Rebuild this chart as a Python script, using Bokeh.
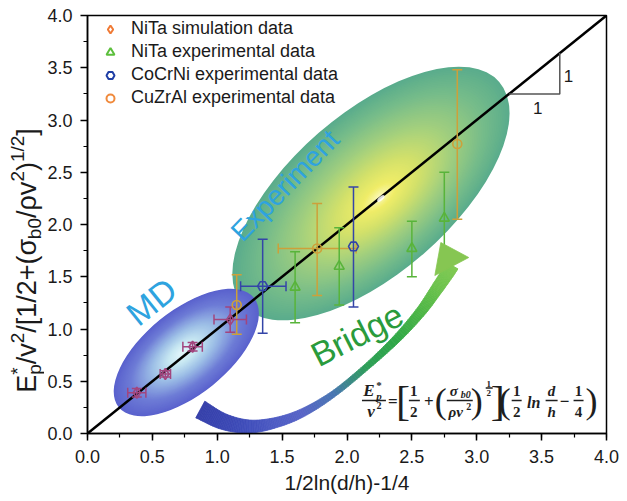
import numpy as np
from bokeh.plotting import figure
from bokeh.layouts import row
from bokeh.models import (Range1d, Label, Legend, LegendItem, SingleIntervalTicker,
                          NumeralTickFormatter, ColumnDataSource)
from bokeh.embed import file_html
from bokeh.resources import INLINE

# ---------------- data ----------------
sim_x = [0.38, 0.60, 0.81, 1.10]
sim_y = [0.39, 0.57, 0.83, 1.09]
sim_xerr = [0.07, 0.04, 0.075, 0.125]
sim_yerr = [0.04, 0.03, 0.04, 0.12]

nita_x = [1.60, 1.94, 2.50, 2.75]
nita_y = [1.40, 1.60, 1.77, 2.06]
nita_lo = [1.06, 1.23, 1.50, 1.62]
nita_hi = [1.74, 1.97, 2.03, 2.50]

cocrni_x = [1.35, 2.05]
cocrni_y = [1.41, 1.79]
cocrni_lo = [0.96, 1.21]
cocrni_hi = [1.86, 2.36]
cocrni_xlo = [1.18, 2.05]
cocrni_xhi = [1.53, 2.05]

cuzral_x = [1.15, 1.77, 2.85]
cuzral_y = [1.23, 1.77, 2.77]
cuzral_lo = [0.95, 1.32, 2.05]
cuzral_hi = [1.52, 2.20, 3.48]
cuzral_xlo = [1.15, 1.47, 2.85]
cuzral_xhi = [1.15, 2.07, 2.85]

series_names = ["NiTa simulation data", "NiTa experimental data",
                "CoCrNi experimental data", "CuZrAl experimental data"]
diag_x = [0.0, 4.0]
diag_y = [0.0, 4.0]
x_title = "1/2ln(d/h)-1/4"

# ---------------- layout ----------------
LW = 44                       # width of the strip holding the y title
W, H = 627 - LW, 501
X0, Y0, SX, SY = 86.0, 433.0, 130.0, 104.5   # page pixel of data origin / px per unit


def to_data(px, py):
    return (px - X0) / SX, (Y0 - py) / SY


p = figure(width=W, height=H, output_backend="svg", toolbar_location=None,
           x_range=Range1d(0, 4), y_range=Range1d(0, 4),
           min_border_left=86 - LW, min_border_right=21, min_border_top=15, min_border_bottom=68)
p.grid.visible = False
p.outline_line_color = "black"
p.outline_line_width = 1.5
p.background_fill_color = "white"
p.border_fill_color = "white"
for ax in (p.xaxis[0], p.yaxis[0]):
    ax.ticker = SingleIntervalTicker(interval=0.5, num_minor_ticks=2)
    ax.formatter = NumeralTickFormatter(format="0.0")
    ax.axis_line_width = 1.5
    ax.axis_line_color = "black"
    ax.major_tick_line_width = 1.5
    ax.minor_tick_line_width = 1.2
    ax.major_tick_out = 7
    ax.major_tick_in = 0
    ax.minor_tick_out = 4
    ax.minor_tick_in = 0
    ax.major_label_text_font = "Liberation Sans"
    ax.major_label_text_font_size = "18px"
    ax.major_label_text_color = "#1a1a1a"
p.xaxis.major_label_standoff = 9
p.yaxis.major_label_standoff = 8
p.xaxis.axis_label = x_title
p.xaxis.axis_label_text_font = "Liberation Sans"
p.xaxis.axis_label_text_font_size = "21px"
p.xaxis.axis_label_text_font_style = "normal"
p.xaxis.axis_label_text_color = "#1a1a1a"
p.xaxis.axis_label_standoff = 5


def interp_color(stops, s):
    ss = [st[0] for st in stops]
    order = np.argsort(ss)
    xs = np.array(ss)[order]
    cols = np.array([st[1] for st in stops], float)[order]
    r = [np.interp(s, xs, cols[:, k]) for k in range(3)]
    return "#%02x%02x%02x" % tuple(int(round(v)) for v in r)


def ellipse_stack(cx, cy, a, b, ang, stops, shift=(0, 0), n=70):
    d = dict(x=[], y=[], w=[], h=[], c=[])
    for i in range(n):
        s = 1 - i / n
        px = cx + (1 - s) * shift[0]
        py = cy + (1 - s) * shift[1]
        x, y = to_data(px, py)
        d["x"].append(x); d["y"].append(y)
        d["w"].append(2 * a * s); d["h"].append(2 * b * s)
        d["c"].append(interp_color(stops, s))
    p.ellipse(x="x", y="y", width="w", height="h", angle=float(np.deg2rad(ang)),
              width_units="screen", height_units="screen", fill_color="c",
              line_color=None, source=ColumnDataSource(d))


green_stops = [(1.0, (90, 172, 140)), (0.8, (118, 188, 138)), (0.55, (162, 207, 126)),
               (0.3, (212, 225, 106)), (0.12, (240, 237, 104)), (0.0, (252, 250, 200))]
blue_stops = [(1.0, (90, 98, 205)), (0.75, (110, 124, 214)), (0.45, (156, 190, 230)),
              (0.2, (200, 232, 242)), (0.0, (228, 247, 252))]

ellipse_stack(370, 193, 170, 80, 41, green_stops, shift=(9, 4))
ellipse_stack(185, 352, 87, 42, 39, blue_stops, shift=(-4, 0))

# diagonal
p.line(diag_x, diag_y, line_color="black", line_width=2.5)

# error bars
CAPX = 5.0 / SX
CAPY = 5.0 / SY


def vbars(xs, lo, hi, color):
    p.segment(x0=xs, y0=lo, x1=xs, y1=hi, line_color=color, line_width=1.5)
    for v in (lo, hi):
        p.segment(x0=[x - CAPX for x in xs], y0=v, x1=[x + CAPX for x in xs], y1=v,
                  line_color=color, line_width=1.5)


def hbars(ys, lo, hi, color):
    sel = [i for i in range(len(ys)) if hi[i] - lo[i] > 1e-6]
    ys = [ys[i] for i in sel]; lo = [lo[i] for i in sel]; hi = [hi[i] for i in sel]
    p.segment(x0=lo, y0=ys, x1=hi, y1=ys, line_color=color, line_width=1.5)
    for v in (lo, hi):
        p.segment(x0=v, y0=[y - CAPY for y in ys], x1=v, y1=[y + CAPY for y in ys],
                  line_color=color, line_width=1.5)


c_sim, c_nita, c_co, c_cu = "#a2457e", "#58b43a", "#3445a8", "#cda03a"

vbars(cuzral_x, cuzral_lo, cuzral_hi, c_cu)
hbars(cuzral_y, cuzral_xlo, cuzral_xhi, c_cu)
vbars(nita_x, nita_lo, nita_hi, c_nita)
vbars(cocrni_x, cocrni_lo, cocrni_hi, c_co)
hbars(cocrni_y, cocrni_xlo, cocrni_xhi, c_co)
vbars(sim_x, [y - e for y, e in zip(sim_y, sim_yerr)], [y + e for y, e in zip(sim_y, sim_yerr)], c_sim)
hbars(sim_y, [x - e for x, e in zip(sim_x, sim_xerr)], [x + e for x, e in zip(sim_x, sim_xerr)], c_sim)

p.scatter(sim_x, sim_y, marker="diamond", size=11, fill_color=None, line_color=c_sim, line_width=1.6)
p.scatter(nita_x, nita_y, marker="triangle", size=10, fill_color=None, line_color=c_nita, line_width=1.6)
p.scatter(cocrni_x, cocrni_y, marker="hex", size=10, fill_color=None, line_color=c_co, line_width=1.6)
p.scatter(cuzral_x, cuzral_y, marker="circle", size=9, fill_color=None, line_color=c_cu, line_width=1.6)

# white highlight
hx, hy = to_data(380, 198)
p.ellipse(x=[hx], y=[hy], width=[9], height=[4], angle=float(np.deg2rad(40)),
          width_units="screen", height_units="screen", fill_color="white",
          fill_alpha=0.85, line_color=None)

# slope triangle
p.line([3.25, 3.64, 3.64], [3.25, 3.25, 3.64], line_color="#555555", line_width=1.5)


# ---------------- bridge arrow ----------------
def catmull(pts, n=16):
    pts = np.array(pts, float)
    P = np.vstack([pts[0], pts, pts[-1]])
    out, us = [], []
    for i in range(1, len(P) - 2):
        p0, p1, p2, p3 = P[i - 1], P[i], P[i + 1], P[i + 2]
        for t in np.linspace(0, 1, n, endpoint=False):
            out.append(0.5 * (2 * p1 + (-p0 + p2) * t + (2 * p0 - 5 * p1 + 4 * p2 - p3) * t * t
                              + (-p0 + 3 * p1 - 3 * p2 + p3) * t ** 3))
            us.append(i - 1 + t)
    out.append(pts[-1]); us.append(len(pts) - 1)
    return np.array(out), np.array(us)


arrow_pts = [(199, 409), (222, 421), (248, 426), (275, 422), (302, 412), (333, 393),
             (366, 366), (396, 338), (420, 311), (437, 287), (447, 272), (451, 265)]
arrow_w = [19, 16, 13, 10, 8, 6, 6, 8, 10, 12, 13, 14]
arrow_c = [(52, 62, 168), (58, 70, 178), (66, 80, 188), (78, 92, 196), (88, 100, 198),
           (72, 118, 178), (44, 158, 86), (48, 168, 70), (78, 182, 70), (108, 194, 76),
           (122, 199, 80), (132, 203, 84)]
C, U = catmull(arrow_pts)
T = np.gradient(C, axis=0)
T /= np.linalg.norm(T, axis=1)[:, None]
N = np.stack([-T[:, 1], T[:, 0]], axis=1)
wv = np.interp(U, np.arange(len(arrow_w)), arrow_w)
L = C + N * wv[:, None] / 2
R = C - N * wv[:, None] / 2
qx, qy, qc = [], [], []
cstops = [(float(i), arrow_c[i]) for i in range(len(arrow_c))]
for k in range(len(C) - 1):
    poly = [L[k], L[k + 1], R[k + 1], R[k]]
    dd = [to_data(*pt) for pt in poly]
    qx.append([d[0] for d in dd]); qy.append([d[1] for d in dd])
    qc.append(interp_color(cstops, 0.5 * (U[k] + U[k + 1])))
p.patches(xs=qx, ys=qy, fill_color=qc, line_color=qc, line_width=0.8)
head = [to_data(434, 275), to_data(440, 242), to_data(468, 257)]
p.patch([h[0] for h in head], [h[1] for h in head], fill_color="#86c652",
        line_color="#86c652", line_width=0.8)

# ---------------- legend ----------------
OFF = [-10.0]
r1 = p.scatter(OFF, OFF, marker="diamond", size=12, fill_color=None, line_color="#f07a35", line_width=2)
r2 = p.scatter(OFF, OFF, marker="triangle", size=11, fill_color=None, line_color="#5cbf3c", line_width=2)
r3 = p.scatter(OFF, OFF, marker="hex", size=11, fill_color=None, line_color="#1f3fa6", line_width=2)
r4 = p.scatter(OFF, OFF, marker="circle", size=10, fill_color=None, line_color="#f08a3c", line_width=2)
legend = Legend(items=[LegendItem(label=series_names[0], renderers=[r1]),
                       LegendItem(label=series_names[1], renderers=[r2]),
                       LegendItem(label=series_names[2], renderers=[r3]),
                       LegendItem(label=series_names[3], renderers=[r4])],
                location="top_left", margin=3, padding=1, glyph_width=40, glyph_height=20,
                label_height=20, spacing=2, label_standoff=1,
                label_text_font="Liberation Sans", label_text_font_size="18px",
                label_text_color="#1a1a1a", background_fill_alpha=0, border_line_color=None)
p.add_layout(legend)


# ---------------- texts ----------------
def lab(px, py, text, size, color="#1a1a1a", font="Liberation Sans", style="normal",
        angle=0.0, align="center", baseline="middle"):
    x, y = to_data(px, py)
    p.add_layout(Label(x=x, y=y, text=text, text_font_size=f"{size}px", text_color=color,
                       text_font=font, text_font_style=style, angle=float(np.deg2rad(angle)),
                       text_align=align, text_baseline=baseline))


lab(150, 301, "MD", 34, color="#2ea3df", angle=39)
lab(284, 185, "Experiment", 28, color="#2ea3df", angle=46)
lab(356, 334, "Bridge", 34, color="#2a9b3c", angle=27)
lab(568, 75, "1", 17)
lab(537, 107, "1", 17)

# formula
SF = "Liberation Serif"
BI = "bold italic"
fc = "#1e1e1e"
lab(368, 390, "E", 17, color=fc, font=SF, style=BI)
lab(378, 384, "*", 11, color=fc, font=SF, style="bold")
lab(378, 395, "p", 11, color=fc, font=SF, style=BI)
lab(370, 411, "v", 17, color=fc, font=SF, style=BI)
lab(378, 405, "2", 10, color=fc, font=SF, style="bold")
lab(392, 401, "=", 17, color=fc, font=SF, style="bold")
lab(402, 400, "[", 42, color=fc, font=SF)
lab(413, 390, "1", 15, color=fc, font=SF, style="bold")
lab(413, 411, "2", 15, color=fc, font=SF, style="bold")
lab(428, 401, "+", 17, color=fc, font=SF, style="bold")
lab(440, 400, "(", 36, color=fc, font=SF)
lab(453, 390, "σ", 15, color=fc, font=SF, style=BI)
lab(465, 394, "b0", 10, color=fc, font=SF, style=BI)
lab(455, 411, "ρv", 15, color=fc, font=SF, style=BI)
lab(468, 406, "2", 10, color=fc, font=SF, style="bold")
lab(476, 400, ")", 36, color=fc, font=SF)
lab(488, 383, "1", 9, color=fc, font=SF, style="bold")
lab(488, 392, "2", 9, color=fc, font=SF, style="bold")
lab(497, 400, "]", 42, color=fc, font=SF)
lab(504, 400, "(", 36, color=fc, font=SF)
lab(516, 390, "1", 15, color=fc, font=SF, style="bold")
lab(516, 411, "2", 15, color=fc, font=SF, style="bold")
lab(533, 402, "ln", 16, color=fc, font=SF, style=BI)
lab(551, 390, "d", 15, color=fc, font=SF, style=BI)
lab(551, 411, "h", 15, color=fc, font=SF, style=BI)
lab(564, 401, "−", 17, color=fc, font=SF, style="bold")
lab(578, 390, "1", 15, color=fc, font=SF, style="bold")
lab(578, 411, "4", 15, color=fc, font=SF, style="bold")
lab(591, 400, ")", 36, color=fc, font=SF)

bars = [(361, 385, 400), (408, 419, 400), (446, 472, 400), (485, 492, 387.5),
        (511, 521, 400), (545, 557, 400), (573, 583, 400)]
bx0, by0, bx1, by1 = [], [], [], []
for a, b, yy in bars:
    x0, y0 = to_data(a, yy)
    x1, y1 = to_data(b, yy)
    bx0.append(x0); by0.append(y0); bx1.append(x1); by1.append(y1)
p.segment(x0=bx0, y0=by0, x1=bx1, y1=by1, line_color=fc, line_width=1.3)

# ---------------- y title strip (rotated runs with sub/superscripts) ----------------
q = figure(frame_width=LW, frame_height=H, output_backend="svg", toolbar_location=None,
           title=None, x_range=Range1d(0, LW), y_range=Range1d(0, H), min_border=0,
           min_border_left=0, min_border_right=0, min_border_top=0, min_border_bottom=0,
           x_axis_location=None, y_axis_location=None)
q.grid.visible = False
q.outline_line_color = None
q.background_fill_color = "white"
q.border_fill_color = "white"

AW = {'E': .667, 'p': .556, '*': .389, '/': .278, 'v': .5, '2': .556, '[': .278, '1': .556,
      '+': .584, '(': .333, 'σ': .602, 'b': .556, '0': .556, 'ρ': .572, ')': .333, ']': .278}
F, S = 27, 19
runs = [("E", F, 0, True), ("p", S, 0.27 * F, False), ("*", S, -0.36 * F, True),
        ("/v", F, 0, True), ("2", S, -0.36 * F, True), ("/[1/2+(σ", F, 0, True),
        ("b0", S, 0.27 * F, True), ("/ρv", F, 0, True), ("2", S, -0.36 * F, True),
        (")", F, 0, True), ("1/2", S, -0.36 * F, True), ("]", F, 0, True)]
widths = [sum(AW[c] for c in t) * sz for t, sz, sh, adv in runs]
total = 0.0
pend = 0.0
for (t, sz, sh, adv), w in zip(runs, widths):
    if adv:
        total += max(w, pend); pend = 0.0
    else:
        pend = w
ycur = 245 + total / 2     # page y of the start (bottom) of the title
pend = 0.0
XC = 26.5
for (t, sz, sh, adv), w in zip(runs, widths):
    q.add_layout(Label(x=XC + sh, y=H - ycur, text=t, text_font_size=f"{sz}px",
                       text_color="#1a1a1a", text_font="Liberation Sans",
                       angle=float(np.pi / 2), text_align="left", text_baseline="middle"))
    if adv:
        ycur -= max(w, pend); pend = 0.0
    else:
        pend = w

open("out.html", "w").write(file_html(row(q, p), INLINE))
